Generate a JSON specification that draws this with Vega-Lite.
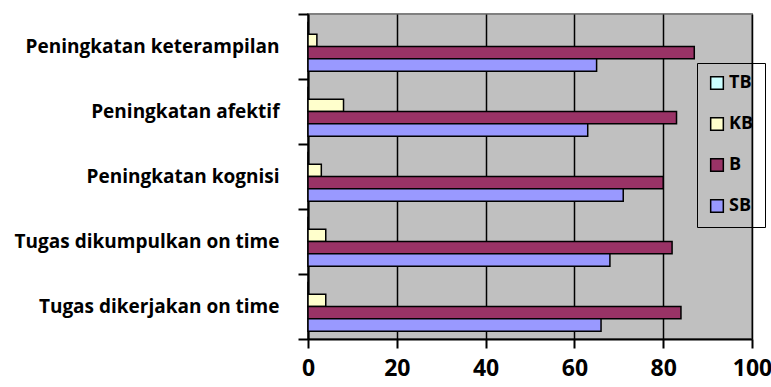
{
  "$schema": "https://vega.github.io/schema/vega-lite/v6.json",
  "width": 444,
  "height": 325,
  "autosize": {"type": "none"},
  "padding": {"left": 308, "top": 14, "right": 19, "bottom": 48},
  "background": "white",
  "config": {
    "view": {"fill": "#C0C0C0", "stroke": "#808080", "strokeWidth": 2},
    "font": "Open Sans"
  },
  "data": {
    "values": [
      {"category": "Peningkatan keterampilan", "series": "TB", "value": 0},
      {"category": "Peningkatan keterampilan", "series": "KB", "value": 2},
      {"category": "Peningkatan keterampilan", "series": "B", "value": 87},
      {"category": "Peningkatan keterampilan", "series": "SB", "value": 65},
      {"category": "Peningkatan afektif", "series": "TB", "value": 0},
      {"category": "Peningkatan afektif", "series": "KB", "value": 8},
      {"category": "Peningkatan afektif", "series": "B", "value": 83},
      {"category": "Peningkatan afektif", "series": "SB", "value": 63},
      {"category": "Peningkatan kognisi", "series": "TB", "value": 0},
      {"category": "Peningkatan kognisi", "series": "KB", "value": 3},
      {"category": "Peningkatan kognisi", "series": "B", "value": 80},
      {"category": "Peningkatan kognisi", "series": "SB", "value": 71},
      {"category": "Tugas dikumpulkan on time", "series": "TB", "value": 0},
      {"category": "Tugas dikumpulkan on time", "series": "KB", "value": 4},
      {"category": "Tugas dikumpulkan on time", "series": "B", "value": 82},
      {"category": "Tugas dikumpulkan on time", "series": "SB", "value": 68},
      {"category": "Tugas dikerjakan on time", "series": "TB", "value": 0},
      {"category": "Tugas dikerjakan on time", "series": "KB", "value": 4},
      {"category": "Tugas dikerjakan on time", "series": "B", "value": 84},
      {"category": "Tugas dikerjakan on time", "series": "SB", "value": 66}
    ]
  },
  "mark": {"type": "bar", "stroke": "black", "strokeWidth": 1.5, "cornerRadius": 0},
  "encoding": {
    "y": {
      "field": "category",
      "type": "nominal",
      "sort": null,
      "scale": {"paddingInner": 0, "paddingOuter": 0},
      "axis": {
        "title": null,
        "labelFont": "Open Sans",
        "labelFontWeight": "bold",
        "labelFontSize": 19,
        "labelColor": "black",
        "labelLimit": 0,
        "labelPadding": 19,
        "tickSize": 10,
        "tickColor": "black",
        "tickWidth": 2,
        "domainColor": "black",
        "domainWidth": 2,
        "bandPosition": 1,
        "tickExtra": true,
        "grid": false
      }
    },
    "yOffset": {
      "field": "series",
      "type": "nominal",
      "sort": ["TB", "KB", "B", "SB"],
      "scale": {"paddingInner": 0, "paddingOuter": 0.63}
    },
    "x": {
      "field": "value",
      "type": "quantitative",
      "scale": {"domain": [0, 100]},
      "axis": {
        "title": null,
        "values": [0, 20, 40, 60, 80, 100],
        "labelFont": "Open Sans",
        "labelFontWeight": "bold",
        "labelFontSize": 23,
        "labelColor": "black",
        "labelPadding": 9,
        "labelFlush": false,
        "tickSize": 9,
        "tickColor": "black",
        "tickWidth": 2,
        "domainColor": "black",
        "domainWidth": 2,
        "grid": true,
        "gridColor": "black",
        "gridWidth": 1.5,
        "gridOpacity": 1
      }
    },
    "color": {
      "field": "series",
      "type": "nominal",
      "scale": {
        "domain": ["TB", "KB", "B", "SB"],
        "range": ["#CCFFFF", "#FFFFCC", "#993366", "#9999FF"]
      },
      "legend": {
        "title": null,
        "orient": "none",
        "legendX": 389,
        "legendY": 49,
        "padding": 11,
        "strokeColor": "black",
        "symbolType": "square",
        "symbolSize": 160,
        "symbolStrokeColor": "black",
        "symbolStrokeWidth": 1.5,
        "symbolOpacity": 1,
        "labelFont": "Open Sans",
        "labelFontWeight": "bold",
        "labelFontSize": 18,
        "labelColor": "black",
        "labelOffset": 3,
        "rowPadding": 21
      }
    }
  }
}
